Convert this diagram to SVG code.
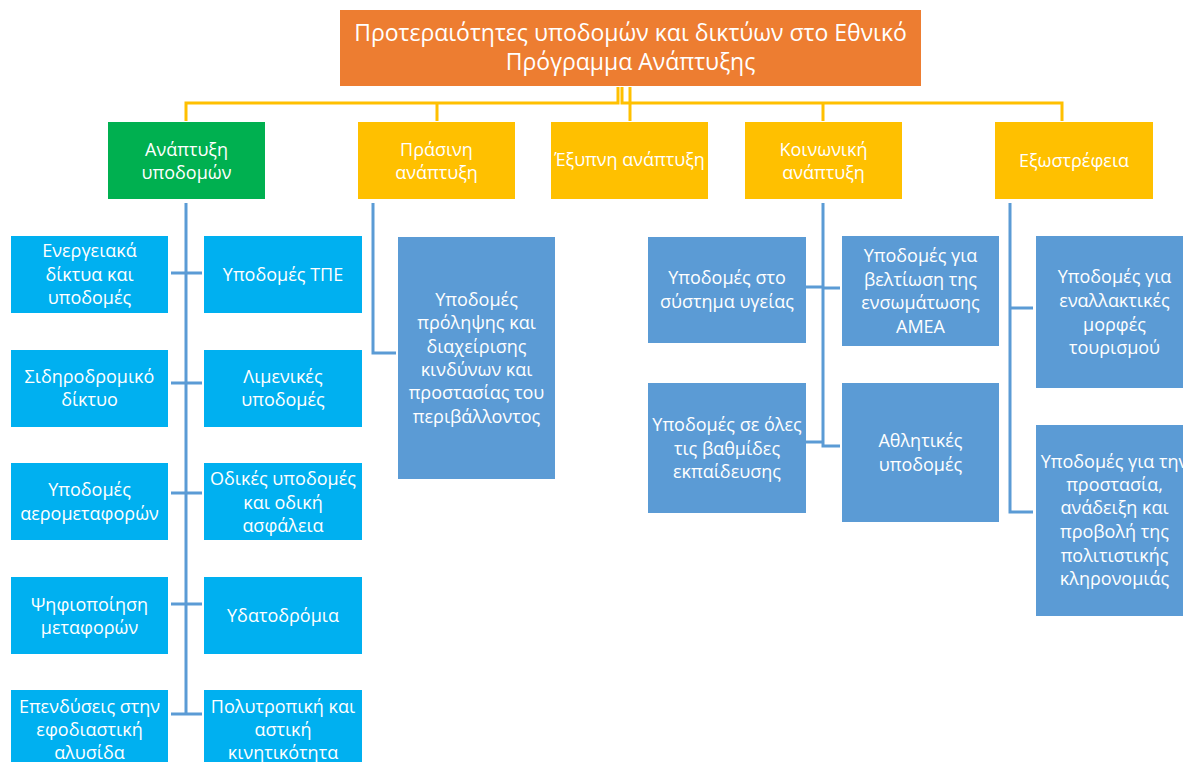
<svg xmlns="http://www.w3.org/2000/svg" width="1183" height="762" viewBox="0 0 1183 762">
<style>
text{font-family:"Open Sans","Noto Sans","DejaVu Sans",sans-serif;fill:#fff;text-anchor:middle;font-size:18px}
.t{font-size:23px}
.y{stroke:#FFC000;stroke-width:3;fill:none}
.b{stroke:#5B9BD5;stroke-width:3;fill:none}
.top{fill:#ED7D31}
.grn{fill:#00B050}
.yel{fill:#FFC000}
.cy{fill:#00B0F0}
.bl{fill:#5B9BD5}
</style>
<rect width="1183" height="762" fill="#fff"/>
<g id="connectors">
<path class="y" d="M618,87V103H186V121M437,103V121"/>
<path class="y" d="M622,87V103H1062V121M823,103V121"/>
<path class="y" d="M630,87V121"/>
<path class="b" d="M186,203V714M171,273H202M171,383H202M171,493H202M171,604H202M171,714H202"/>
<path class="b" d="M373,203V353H396"/>
<path class="b" d="M823,203V446H840M806,287H823M823,288H840M806,442H823"/>
<path class="b" d="M1010,203V512H1033M1010,308H1033"/>
</g>
<g id="n-title"><rect class="top" x="340" y="10" width="581" height="76"/><text class="t" x="630.5" y="41">Προτεραιότητες υποδομών και δικτύων στο Εθνικό</text><text class="t" x="630.5" y="70">Πρόγραμμα Ανάπτυξης</text></g>
<g id="n-infra"><rect class="grn" x="108" y="122" width="157" height="77"/><text x="186.5" y="156">Ανάπτυξη</text><text x="186.5" y="179">υποδομών</text></g>
<g id="n-green"><rect class="yel" x="358" y="122" width="157" height="77"/><text x="436.5" y="156">Πράσινη</text><text x="436.5" y="179">ανάπτυξη</text></g>
<g id="n-smart"><rect class="yel" x="551" y="122" width="157" height="77"/><text x="629.5" y="166">Έξυπνη ανάπτυξη</text></g>
<g id="n-social"><rect class="yel" x="745" y="122" width="157" height="77"/><text x="823.5" y="156">Κοινωνική</text><text x="823.5" y="179">ανάπτυξη</text></g>
<g id="n-outward"><rect class="yel" x="995" y="122" width="158" height="77"/><text x="1074" y="167">Εξωστρέφεια</text></g>

<g id="n-energy"><rect class="cy" x="11" y="236" width="157" height="77"/><text x="89.5" y="257">Ενεργειακά</text><text x="89.5" y="281">δίκτυα και</text><text x="89.5" y="304">υποδομές</text></g>
<g id="n-ict"><rect class="cy" x="204" y="236" width="158" height="77"/><text x="283" y="281">Υποδομές ΤΠΕ</text></g>
<g id="n-rail"><rect class="cy" x="11" y="350" width="157" height="77"/><text x="89.5" y="383">Σιδηροδρομικό</text><text x="89.5" y="406">δίκτυο</text></g>
<g id="n-port"><rect class="cy" x="204" y="350" width="158" height="77"/><text x="283" y="383">Λιμενικές</text><text x="283" y="406">υποδομές</text></g>
<g id="n-air"><rect class="cy" x="11" y="463" width="157" height="77"/><text x="89.5" y="496">Υποδομές</text><text x="89.5" y="520">αερομεταφορών</text></g>
<g id="n-road"><rect class="cy" x="204" y="463" width="158" height="77"/><text x="283" y="485">Οδικές υποδομές</text><text x="283" y="509">και οδική</text><text x="283" y="532">ασφάλεια</text></g>
<g id="n-digital"><rect class="cy" x="11" y="577" width="157" height="77"/><text x="89.5" y="611">Ψηφιοποίηση</text><text x="89.5" y="634">μεταφορών</text></g>
<g id="n-water"><rect class="cy" x="204" y="577" width="158" height="77"/><text x="283" y="622">Υδατοδρόμια</text></g>
<g id="n-logistics"><rect class="cy" x="11" y="690" width="157" height="77"/><text x="89.5" y="713">Επενδύσεις στην</text><text x="89.5" y="736">εφοδιαστική</text><text x="89.5" y="759">αλυσίδα</text></g>
<g id="n-mobility"><rect class="cy" x="204" y="690" width="158" height="77"/><text x="283" y="713">Πολυτροπική και</text><text x="283" y="736">αστική</text><text x="283" y="759">κινητικότητα</text></g>

<g id="n-risk"><rect class="bl" x="398" y="237" width="157" height="242"/><text x="476.5" y="306">Υποδομές</text><text x="476.5" y="329">πρόληψης και</text><text x="476.5" y="353">διαχείρισης</text><text x="476.5" y="376">κινδύνων και</text><text x="476.5" y="399">προστασίας του</text><text x="476.5" y="423">περιβάλλοντος</text></g>
<g id="n-health"><rect class="bl" x="648" y="237" width="158" height="106"/><text x="727" y="284">Υποδομές στο</text><text x="727" y="308">σύστημα υγείας</text></g>
<g id="n-edu"><rect class="bl" x="648" y="383" width="158" height="130"/><text x="727" y="431">Υποδομές σε όλες</text><text x="727" y="455">τις βαθμίδες</text><text x="727" y="478">εκπαίδευσης</text></g>
<g id="n-amea"><rect class="bl" x="842" y="236" width="157" height="110"/><text x="920.5" y="262">Υποδομές για</text><text x="920.5" y="286">βελτίωση της</text><text x="920.5" y="309">ενσωμάτωσης</text><text x="920.5" y="333">ΑΜΕΑ</text></g>
<g id="n-sport"><rect class="bl" x="842" y="383" width="157" height="139"/><text x="920.5" y="447">Αθλητικές</text><text x="920.5" y="471">υποδομές</text></g>
<g id="n-tourism"><rect class="bl" x="1036" y="236" width="157" height="152"/><text x="1114.5" y="283">Υποδομές για</text><text x="1114.5" y="307">εναλλακτικές</text><text x="1114.5" y="331">μορφές</text><text x="1114.5" y="354">τουρισμού</text></g>
<g id="n-culture"><rect class="bl" x="1036" y="425" width="157" height="191"/><text x="1114.5" y="468">Υποδομές για την</text><text x="1114.5" y="491">προστασία,</text><text x="1114.5" y="514">ανάδειξη και</text><text x="1114.5" y="538">προβολή της</text><text x="1114.5" y="562">πολιτιστικής</text><text x="1114.5" y="585">κληρονομιάς</text></g>
</svg>
